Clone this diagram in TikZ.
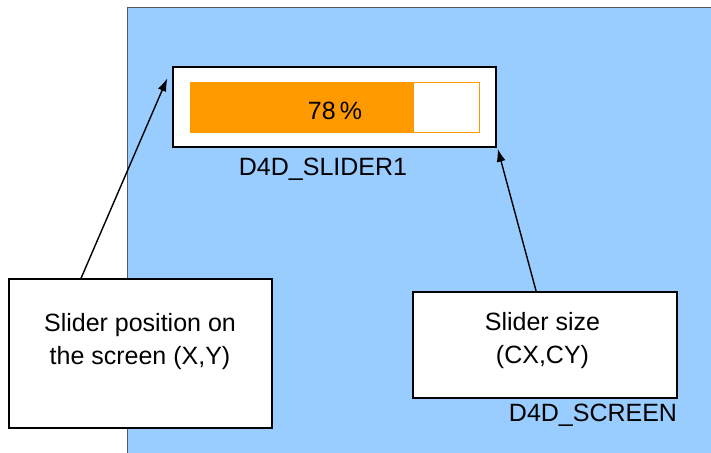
\documentclass[tikz,border=0pt]{standalone}
\usepackage{fontspec}
\setmainfont{Liberation Sans}
\usetikzlibrary{arrows.meta}
\definecolor{screenblue}{HTML}{99CCFF}
\definecolor{sliderorange}{HTML}{FF9900}

\begin{document}
\begin{tikzpicture}[x=1pt,y=-1pt,
  txt/.style={font=\fontsize{25}{33}\selectfont,align=center,inner sep=0pt},
  infobox/.style={draw,line width=1.8pt,fill=white,inner sep=0pt},
  pointer/.style={line width=1.4pt,-{Latex[length=13pt,width=9pt]}}]
  \useasboundingbox (0,0) rectangle (711,452);
  % Pantalla
  \fill[screenblue] (127,8) rectangle (720,460);
  \draw[gray!70!black,line width=1pt] (127,460) -- (127,8) -- (720,8);
  \node[txt,anchor=base] (screenlbl) at (593,421) {D4D\_SCREEN};
  % Slider
  \node[draw,line width=1.4pt,fill=white,minimum width=323pt,minimum height=80pt] (slider) at (334.5,107) {};
  \node[draw=sliderorange,line width=0.8pt,fill=white,minimum width=289pt,minimum height=50pt] (bar) at (334.5,107) {};
  \fill[sliderorange] (bar.north west) rectangle ([xshift=224pt]bar.south west);
  \node[txt,anchor=base] (value) at (335,119) {78\,\%};
  \node[txt,anchor=base] (sliderlbl) at (323,175) {D4D\_SLIDER1};
  % Cuadros
  \node[infobox,minimum width=263pt,minimum height=149pt] (posbox) at (140.5,353.5) {};
  \node[txt] (postxt) at (140,341.5) {Slider position on\\the screen (X,Y)};
  \node[infobox,minimum width=264pt,minimum height=106pt] (sizebox) at (545,345) {};
  \node[txt] (sizetxt) at (542.5,341) {Slider size\\(CX,CY)};
  % Flechas
  \draw[pointer] ([xshift=73pt]posbox.north west) -- ([xshift=-5pt,yshift=-12pt]slider.north west);
  \draw[pointer] ([xshift=124pt]sizebox.north west) -- ([xshift=1pt,yshift=-1pt]slider.south east);
\end{tikzpicture}
\end{document}
